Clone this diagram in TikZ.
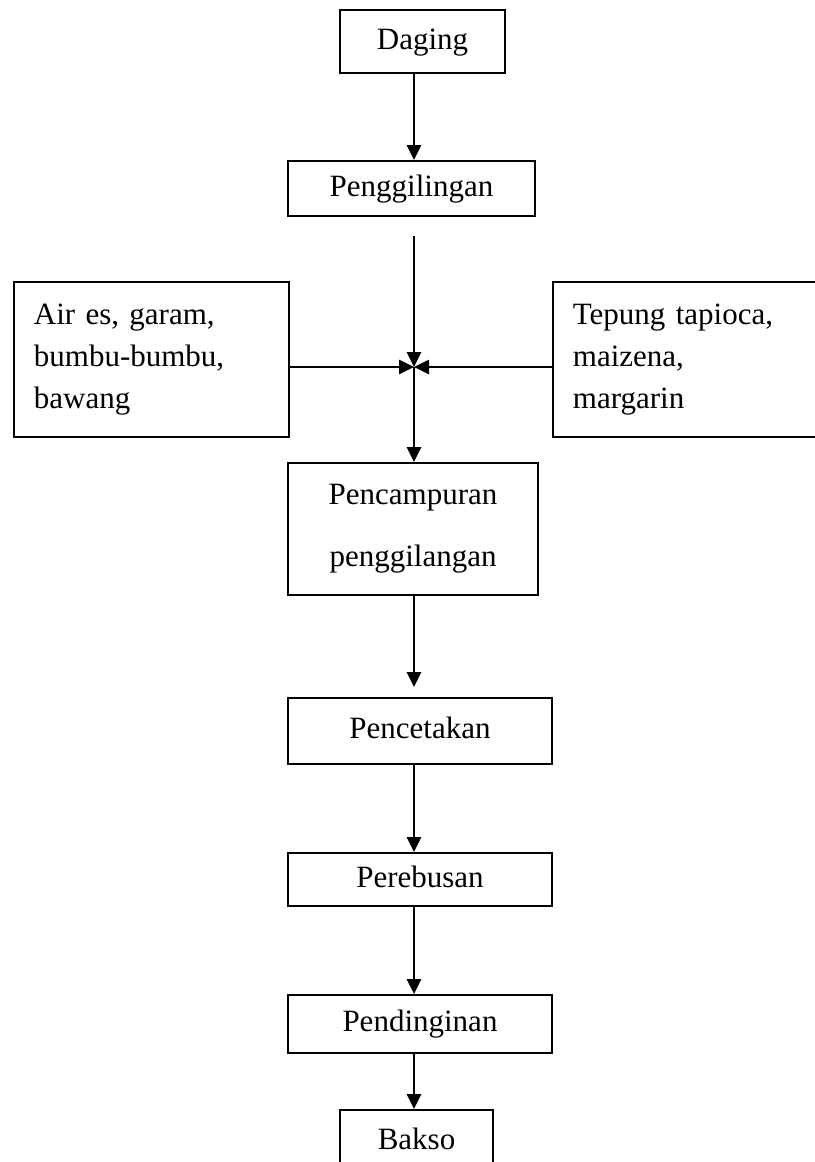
\documentclass[tikz,border=0pt]{standalone}
\usepackage{fontspec}
\setmainfont{Liberation Serif}
\usetikzlibrary{arrows.meta}
\begin{document}
\begin{tikzpicture}[x=1pt,y=-1pt,->,>={Triangle[length=15pt,width=14pt]},line width=2.6pt]
				\tikzstyle{box} = [draw,line width=1.8pt,inner sep=0pt,font=\fontsize{31}{42}\selectfont,text height=21.5pt,text depth=6.5pt]
				\tikzstyle{twoline} = [draw,line width=1.8pt,inner sep=0pt,font=\fontsize{31}{42}\selectfont,align=center]
				\tikzstyle{side} = [draw,line width=1.8pt,inner xsep=20pt,inner ysep=0pt,font=\fontsize{31}{42}\selectfont,text width=235pt,align=left,minimum height=155pt,anchor=north west]
				\useasboundingbox (0,0) rectangle (814,1162);
				
				\node[box,minimum width=165pt,minimum height=63pt] (daging) at (422.5,41.5) {Daging};
				\node[box,minimum width=247pt,minimum height=55pt] (giling) at (411.5,188.5) {Penggilingan};
				\node[side] (bumbu) at (13,281) {Air es, garam,\\bumbu-bumbu,\\bawang};
				\node[side] (tepung) at (552,281) {Tepung tapioca,\\maizena,\\margarin};
				\coordinate (mix) at (414,367);
				\node[twoline,minimum width=250pt,minimum height=132pt] (campur) at (413,529) {Pencampuran\\[20pt]penggilangan};
				\node[box,minimum width=264pt,minimum height=66pt] (cetak) at (420,731) {Pencetakan};
				\node[box,minimum width=264pt,minimum height=53pt] (rebus) at (420,879.5) {Perebusan};
				\node[box,minimum width=264pt,minimum height=58pt] (dingin) at (420,1024) {Pendinginan};
				\node[box,minimum width=153pt,minimum height=63pt] (bakso) at (416.5,1141.5) {Bakso};
				
				\path (daging.south -| mix) edge (giling.north -| mix);
				\path (giling.south -| mix) edge[shorten <=19pt] (mix);
				\path (bumbu.east |- mix) edge (mix);
				\path (tepung.west |- mix) edge (mix);
				\path (mix) edge (campur.north -| mix);
				\path (campur.south -| mix) edge[shorten >=10pt] (cetak.north -| mix);
				\path (cetak.south -| mix) edge (rebus.north -| mix);
				\path (rebus.south -| mix) edge (dingin.north -| mix);
				\path (dingin.south -| mix) edge (bakso.north -| mix);
			\end{tikzpicture}
\end{document}
